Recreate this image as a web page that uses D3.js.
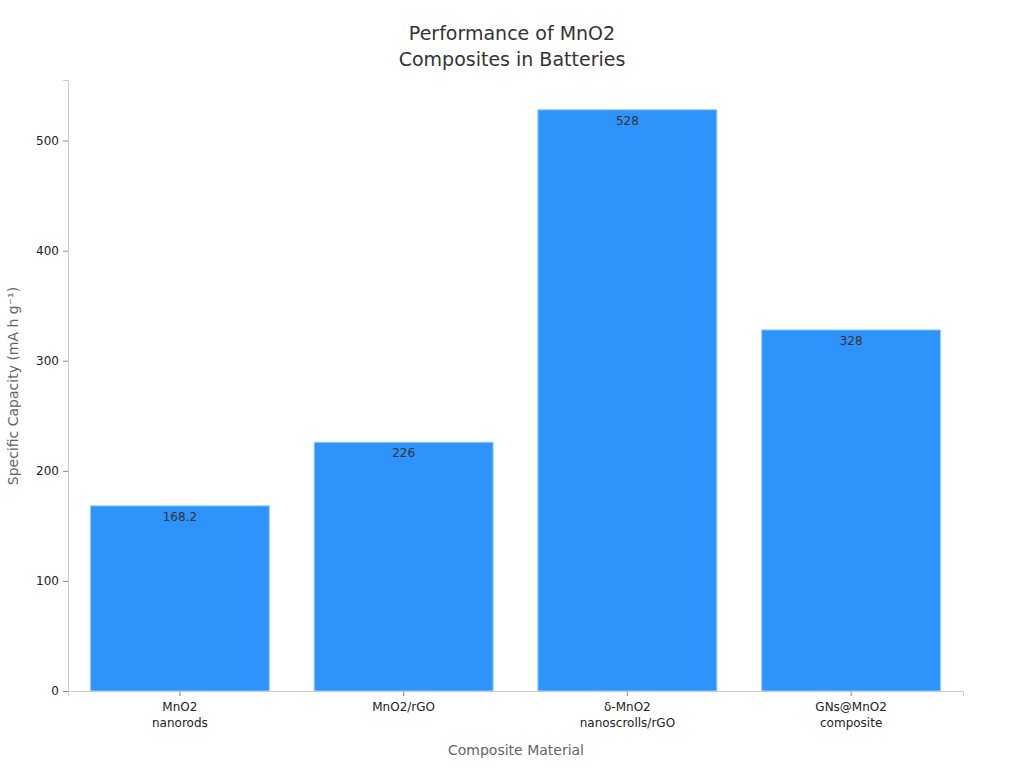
<!DOCTYPE html>
<html><head><meta charset="utf-8">
<script src="https://cdn.jsdelivr.net/npm/d3@7"></script>
<style>body{margin:0;background:#fff}text{font-family:"DejaVu Sans",sans-serif}</style>
</head><body><svg id="c" width="1024" height="768"></svg>
<script>
var categories = [['MnO2', 'nanorods'], ['MnO2/rGO'], ['δ-MnO2', 'nanoscrolls/rGO'], ['GNs@MnO2', 'composite']]
var values = [168.2, 226, 528, 328]
var yTicks = [0, 100, 200, 300, 400, 500]

var svg = d3.select('#c')
var mLeft = 68, mRight = 963, mTop = 80, mBottom = 691

var x = d3.scaleBand().domain(d3.range(categories.length)).range([mLeft, mRight])
  .paddingInner(0.2).paddingOuter(0.1)
var y = d3.scaleLinear().domain([0, 555]).range([mBottom, mTop])

var yAxis = svg.append('g').attr('transform', 'translate(' + mLeft + ',0)')
  .call(d3.axisLeft(y).tickValues(yTicks).tickSize(5).tickPadding(4))
yAxis.select('.domain').attr('stroke', '#ccc')
yAxis.selectAll('.tick line').attr('stroke', '#888')
yAxis.selectAll('text').attr('font-size', 12).attr('fill', '#222')

var xAxis = svg.append('g').attr('transform', 'translate(0,' + mBottom + ')')
  .call(d3.axisBottom(x).tickSize(5).tickFormat(''))
xAxis.select('.domain').attr('stroke', '#ccc')
xAxis.selectAll('.tick line').attr('stroke', '#888')
xAxis.selectAll('.tick').append('text')
  .attr('fill', '#222').attr('font-size', 12).attr('text-anchor', 'middle')
  .selectAll('tspan').data(function (d) { return categories[d] }).enter()
  .append('tspan').attr('x', 0).attr('y', function (d, i) { return 20 + i * 16 }).text(function (d) { return d })

svg.selectAll('.bar').data(values).enter().append('rect')
  .attr('x', function (d, i) { return x(i) }).attr('width', x.bandwidth())
  .attr('y', function (d) { return y(d) }).attr('height', function (d) { return mBottom - y(d) })
  .attr('fill', '#2E93FA').attr('stroke', '#9fd0ff').attr('stroke-width', 1)

svg.selectAll('.lbl').data(values).enter().append('text')
  .attr('x', function (d, i) { return x(i) + x.bandwidth() / 2 }).attr('y', function (d) { return y(d) + 15 })
  .attr('text-anchor', 'middle').attr('font-size', 12).attr('fill', '#333')
  .text(function (d) { return d })

svg.append('text').attr('x', 512).attr('y', 40).attr('text-anchor', 'middle').attr('font-size', 19).attr('fill', '#333').text('Performance of MnO2')
svg.append('text').attr('x', 512).attr('y', 66).attr('text-anchor', 'middle').attr('font-size', 19).attr('fill', '#333').text('Composites in Batteries')
svg.append('text').attr('x', 516).attr('y', 755).attr('text-anchor', 'middle').attr('font-size', 14).attr('fill', '#666').text('Composite Material')
svg.append('text').attr('transform', 'translate(18,386) rotate(-90)').attr('text-anchor', 'middle').attr('font-size', 14).attr('fill', '#666').text('Specific Capacity (mA h g⁻¹)')
</script></body></html>
